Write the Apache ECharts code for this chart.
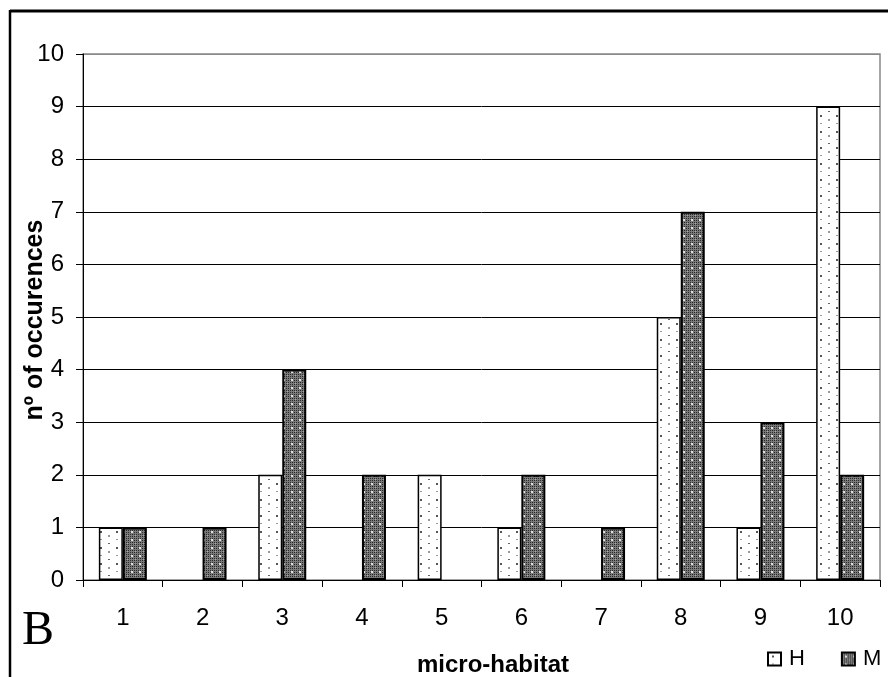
<!DOCTYPE html>
<html>
<head>
<meta charset="utf-8">
<script src="https://cdn.jsdelivr.net/npm/echarts@6/dist/echarts.min.js"></script>
<style>html,body{margin:0;padding:0;background:#fff}#c{width:888px;height:677px}</style>
</head>
<body>
<div id="c"></div>
<script>
var categories = ['1','2','3','4','5','6','7','8','9','10'];
var seriesH = [1,0,2,0,2,1,0,5,1,9];
var seriesM = [1,1,4,2,0,2,1,7,3,2];
var yTicks = [0,1,2,3,4,5,6,7,8,9,10];

function makeH(){
  var c=document.createElement('canvas');c.width=16;c.height=16;
  var g=c.getContext('2d');g.fillStyle='#fff';g.fillRect(0,0,16,16);
  g.fillStyle='#555';g.fillRect(4,3,2,2);
  g.fillStyle='#999';g.fillRect(12,7,2,2);
  g.fillStyle='#999';g.fillRect(4,11,2,1);
  g.fillStyle='#666';g.fillRect(12,15,2,1);
  return c;
}
function makeM(){
  var c=document.createElement('canvas');c.width=8;c.height=8;
  var g=c.getContext('2d');g.fillStyle='#7a7a7a';g.fillRect(0,0,8,8);
  g.fillStyle='#2a2a2a';
  for(var x=0;x<8;x+=2)for(var y=0;y<8;y+=2)g.fillRect(x,y,1,1);
  g.fillStyle='#e0e0e0';g.fillRect(3,3,2,2);
  g.fillStyle='#aaa';g.fillRect(7,7,1,1);
  return c;
}
function toData(arr){
  return arr.map(function(v){return v===0?{value:0,itemStyle:{borderWidth:0}}:v;});
}
var chart = echarts.init(document.getElementById('c'));
var splitColors = yTicks.map(function(v,i){return i===yTicks.length-1?'#888':'#000';});
var F = 'Liberation Sans, Arial, sans-serif';
chart.setOption({
  animation:false,
  backgroundColor:'#fff',
  grid:{left:83,right:8,top:54,bottom:97,show:true,borderColor:'#888',borderWidth:1.5,backgroundColor:'transparent'},
  legend:{left:767,top:648,padding:0,itemWidth:13,itemHeight:13,itemGap:36,icon:'rect',
    textStyle:{fontFamily:F,fontSize:22,color:'#000',padding:[0,0,0,3]},
    data:['H','M']},
  xAxis:{type:'category',data:categories,
    axisLine:{lineStyle:{color:'#000',width:1}},
    axisTick:{show:true,length:7,lineStyle:{color:'#000'}},
    axisLabel:{fontFamily:F,fontSize:24,color:'#000',margin:26},
    splitLine:{show:false}},
  yAxis:{type:'value',min:0,max:10,interval:1,
    axisLine:{show:true,lineStyle:{color:'#000',width:1}},
    axisTick:{show:true,length:7,lineStyle:{color:'#000'}},
    axisLabel:{fontFamily:F,fontSize:24,color:'#000',margin:19},
    splitLine:{show:true,lineStyle:{color:splitColors,width:1}}},
  series:[
    {name:'H',type:'bar',data:toData(seriesH),barWidth:24,barGap:'0%',
     itemStyle:{color:{image:makeH(),repeat:'repeat'},borderColor:'#000',borderWidth:1.5}},
    {name:'M',type:'bar',data:toData(seriesM),barWidth:24,barGap:'0%',
     itemStyle:{color:{image:makeM(),repeat:'repeat'},borderColor:'#000',borderWidth:2}}
  ],
  graphic:[
    {type:'line',shape:{x1:10,y1:11,x2:888,y2:11},style:{stroke:'#000',lineWidth:3}},
    {type:'line',shape:{x1:10,y1:10,x2:10,y2:677},style:{stroke:'#000',lineWidth:2.5}},
    {type:'text',left:417,top:653,style:{text:'micro-habitat',fontFamily:F,fontWeight:'bold',fontSize:24,fill:'#000'}},
    {type:'text',x:35,y:320,rotation:Math.PI/2,style:{text:'nº of occurences',fontFamily:F,fontWeight:'bold',fontSize:25,fill:'#000',align:'center',verticalAlign:'middle'}},
    {type:'text',left:22,top:607,style:{text:'B',fontFamily:'Liberation Serif, Times New Roman, serif',fontSize:48,fill:'#000'}}
  ]
});
</script>
</body>
</html>
